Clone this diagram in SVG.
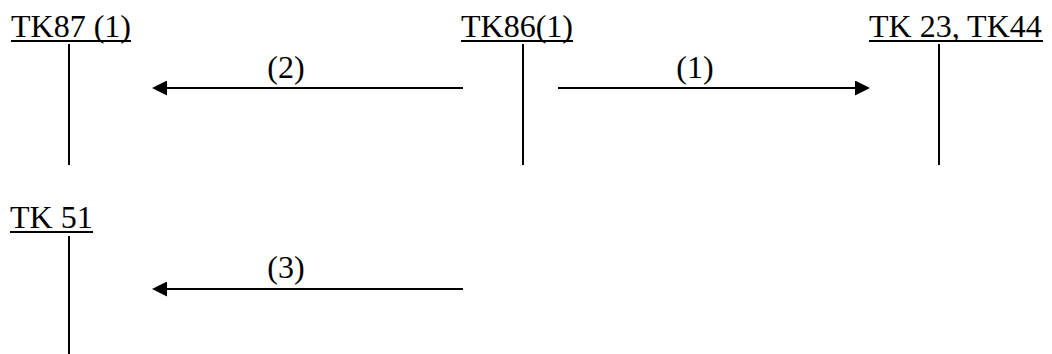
<svg xmlns="http://www.w3.org/2000/svg" width="1052" height="354" viewBox="0 0 1052 354">
<style>
text{font-family:"Liberation Serif","Times New Roman",serif;font-size:32px;fill:#000}
line{stroke:#000;stroke-width:2}
</style>
<defs>
<marker id="ah" markerUnits="userSpaceOnUse" markerWidth="15" markerHeight="15" viewBox="0 0 15 15" refX="0" refY="7.5" orient="auto">
<path d="M0,0 L15,7.5 L0,15 z" fill="#000"/>
</marker>
</defs>
<rect width="1052" height="354" fill="#fff"/>
<g id="tk87">
<text x="11" y="37">TK87 (1)</text>
<line x1="11" y1="41" x2="131" y2="41"/>
<line x1="69" y1="44" x2="69" y2="165"/>
</g>
<g id="tk86">
<text x="461" y="37">TK86(1)</text>
<line x1="461" y1="41" x2="573" y2="41"/>
<line x1="523" y1="44" x2="523" y2="165"/>
</g>
<g id="tk23">
<text x="869" y="37">TK 23, TK44</text>
<line x1="869" y1="41" x2="1043" y2="41"/>
<line x1="939" y1="44" x2="939" y2="165"/>
</g>
<g id="tk51">
<text x="10" y="228">TK 51</text>
<line x1="10" y1="232" x2="93" y2="232"/>
<line x1="69" y1="236" x2="69" y2="354"/>
</g>
<g id="connectors">
<line x1="463" y1="88" x2="167" y2="88" marker-end="url(#ah)"/>
<text x="286" y="78" text-anchor="middle">(2)</text>
<line x1="558" y1="88" x2="855" y2="88" marker-end="url(#ah)"/>
<text x="695" y="78" text-anchor="middle">(1)</text>
<line x1="463" y1="289" x2="167" y2="289" marker-end="url(#ah)"/>
<text x="286" y="278" text-anchor="middle">(3)</text>
</g>
</svg>
